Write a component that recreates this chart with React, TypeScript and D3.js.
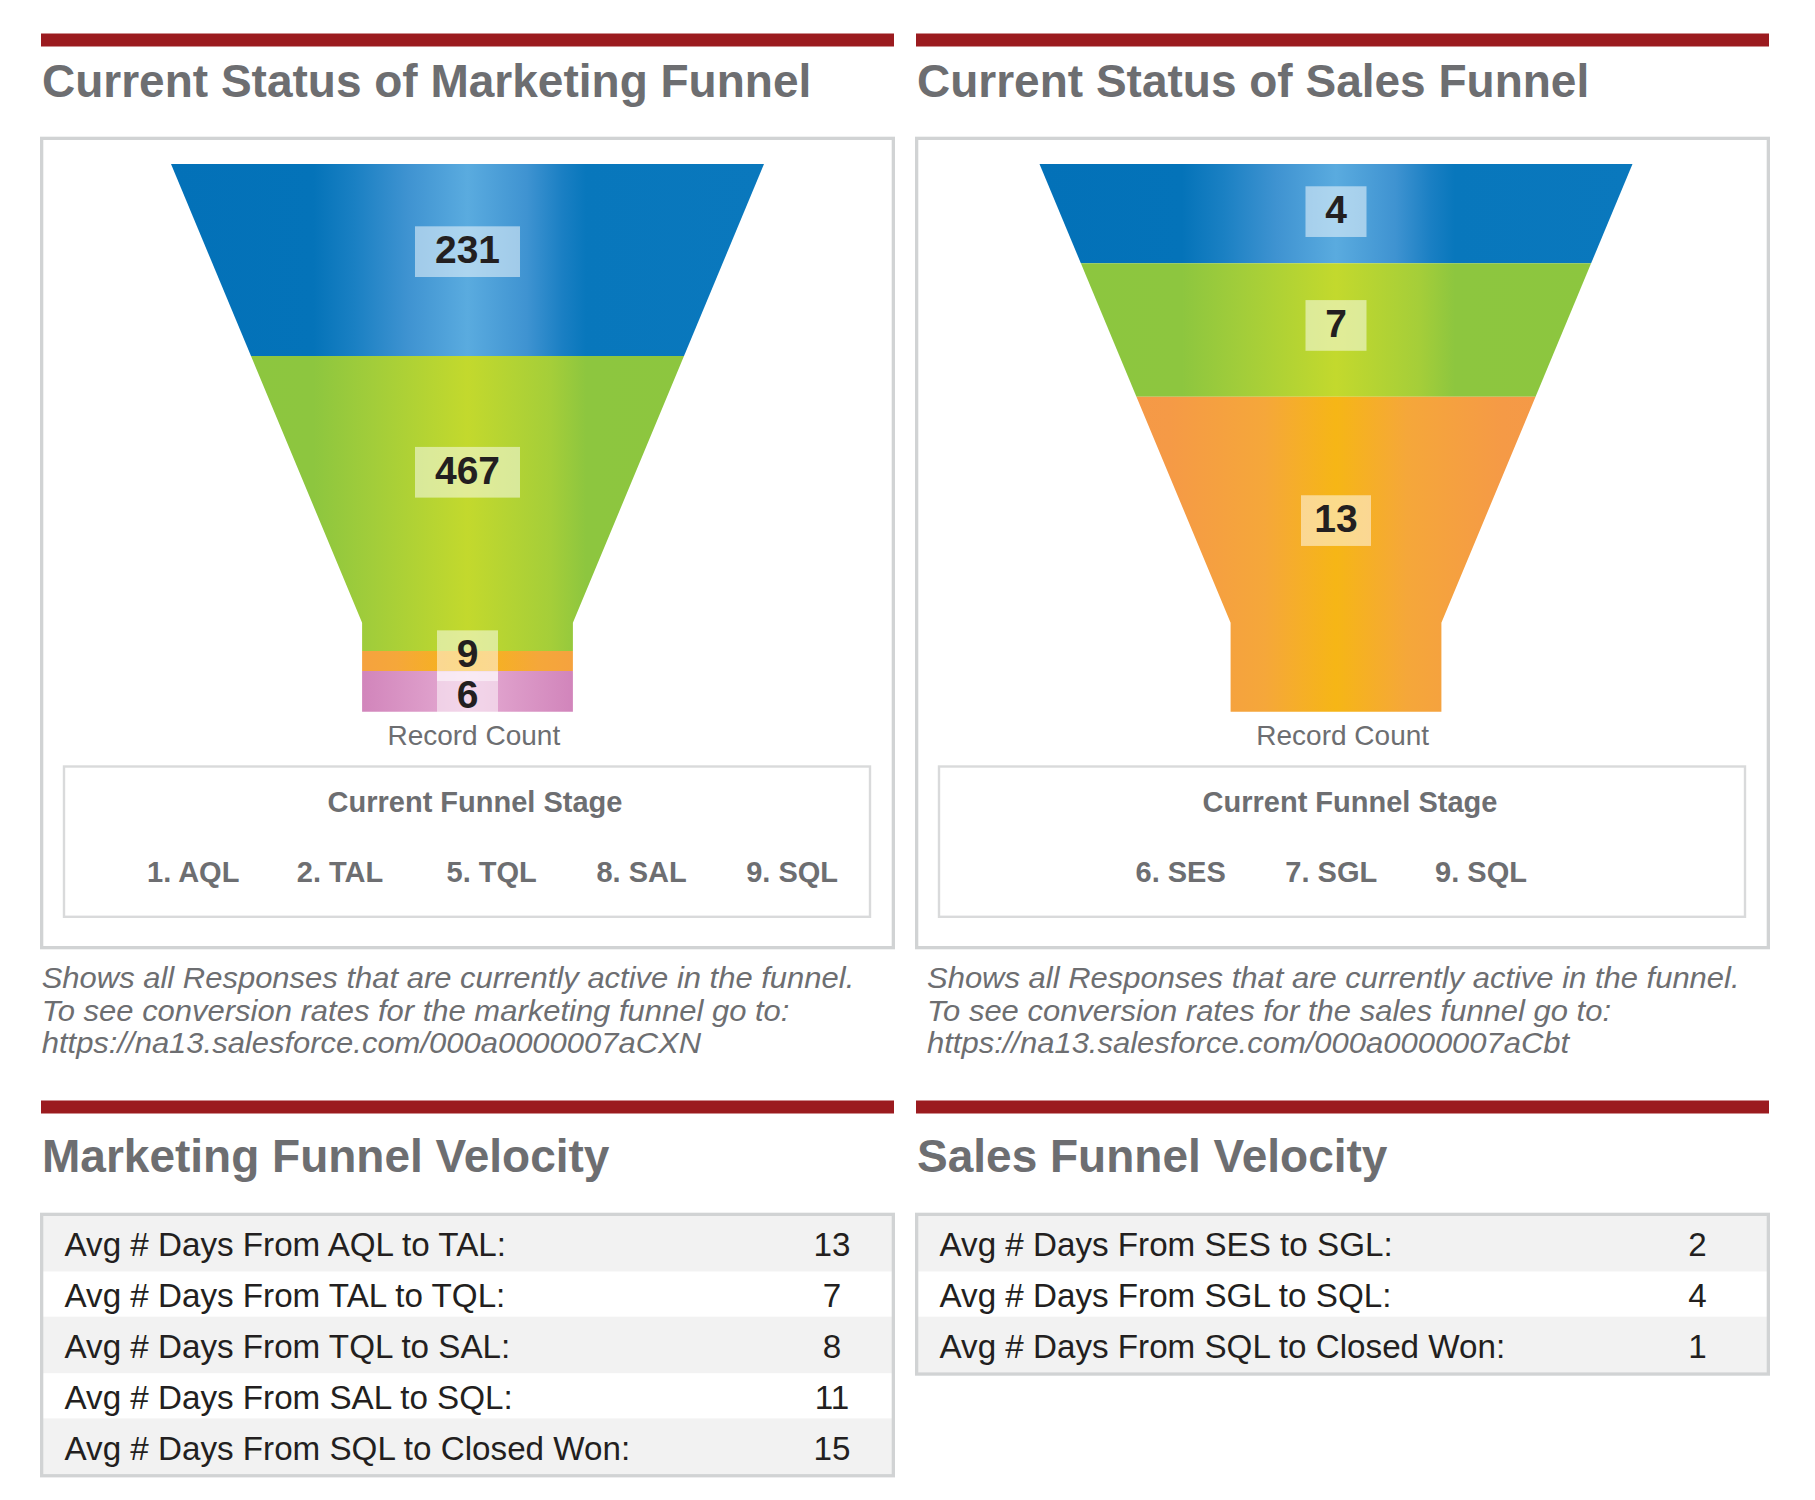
import React from 'react';
import * as d3 from 'd3';

// ---------------- DATA ----------------
const marketingTitle = 'Current Status of Marketing Funnel';
const salesTitle = 'Current Status of Sales Funnel';
const marketingStages = ['1. AQL', '2. TAL', '5. TQL', '8. SAL', '9. SQL'];
const marketingCounts = [231, 467, 9, 6];
// relative size of each funnel band as drawn in the chart (percent of funnel height)
const marketingBandSize = [35.06, 53.86, 3.65, 7.43];
const marketingBandColor = ['blue', 'green', 'orange', 'pink'];

const salesStages = ['6. SES', '7. SGL', '9. SQL'];
const salesCounts = [4, 7, 13];
const salesBandSize = [18.13, 24.36, 57.51];
const salesBandColor = ['blue', 'green', 'orange'];

const marketingNote = [
  'Shows all Responses that are currently active in the funnel.',
  'To see conversion rates for the marketing funnel go to:',
  'https://na13.salesforce.com/000a0000007aCXN',
];
const salesNote = [
  'Shows all Responses that are currently active in the funnel.',
  'To see conversion rates for the sales funnel go to:',
  'https://na13.salesforce.com/000a0000007aCbt',
];

const marketingVelocityTitle = 'Marketing Funnel Velocity';
const salesVelocityTitle = 'Sales Funnel Velocity';
const marketingVelocityLabels = [
  'Avg # Days From AQL to TAL:',
  'Avg # Days From TAL to TQL:',
  'Avg # Days From TQL to SAL:',
  'Avg # Days From SAL to SQL:',
  'Avg # Days From SQL to Closed Won:',
];
const marketingVelocityDays = [13, 7, 8, 11, 15];
const salesVelocityLabels = [
  'Avg # Days From SES to SGL:',
  'Avg # Days From SGL to SQL:',
  'Avg # Days From SQL to Closed Won:',
];
const salesVelocityDays = [2, 4, 1];

// ---------------- STYLE / LAYOUT ----------------
const FONT = "'Liberation Sans', Arial, Helvetica, sans-serif";
const GRAY_TEXT = '#6d6e71';
const DARK_TEXT = '#231f20';
const RED = '#9b1b1f';
const BORDER = '#d1d3d4';

const palettes: Record<string, [number, string][]> = {
  blue: [[0, '#0371b8'], [0.24, '#0473b9'], [0.31, '#1a80c3'], [0.4, '#3f93d1'], [0.5, '#5aabdf'], [0.6, '#3f93d1'], [0.66, '#1a7fc3'], [0.7, '#0877bc'], [1, '#0a78bd']],
  green: [[0, '#8cc63f'], [0.24, '#8dc63f'], [0.34, '#a2cd3a'], [0.5, '#c3d92d'], [0.64, '#a5ce39'], [0.7, '#8dc63f'], [1, '#8cc63f']],
  orange: [[0, '#f4974a'], [0.22, '#f59a46'], [0.38, '#f5a73a'], [0.5, '#f6b616'], [0.62, '#f5a73a'], [0.78, '#f59a46'], [1, '#f4974a']],
  pink: [[0, '#ce7eb7'], [0.3, '#cf80b8'], [0.42, '#dc9ac8'], [0.5, '#e6acd4'], [0.58, '#dc9ac8'], [0.7, '#cf80b8'], [1, '#ce7eb7']],
};

const FUNNEL_TOP = 164;
const NECK_Y = 622.7;
const FUNNEL_BOTTOM = 711.7;
const TOP_HW = 296.5;
const NECK_HW = 105.4;
const LABEL_FONT = 39;
const LABEL_BOX_H = 50.7;
const LABEL_MIN_GAP = 41;
const CENTROID_POWER = 1.7;

const NOTE_FONT = 29;
const NOTE_STRETCH = 1.068;
const NOTE_BASE = 988.3;
const NOTE_PITCH = 32.4;

const TABLE_FONT = 33.2;

const PANEL_DX = 875;

type FunnelProps = {
  id: string;
  cx: number;
  counts: number[];
  sizes: number[];
  colors: string[];
};

function Funnel({ id, cx, counts, sizes, colors }: FunnelProps) {
  const total = d3.sum(sizes);
  const y = d3.scaleLinear().domain([0, total]).range([FUNNEL_TOP, FUNNEL_BOTTOM]);
  const hw = d3
    .scaleLinear()
    .domain([FUNNEL_TOP, NECK_Y, FUNNEL_BOTTOM])
    .range([TOP_HW, NECK_HW, NECK_HW])
    .clamp(true);
  const cum = [0, ...Array.from(d3.cumsum(sizes))];
  const line = d3.line();

  const bands = sizes.map((_, i) => {
    const y0 = y(cum[i]);
    const y1 = y(cum[i + 1]);
    const ys = [y0, ...(NECK_Y > y0 && NECK_Y < y1 ? [NECK_Y] : []), y1];
    const left = ys.map((v) => [cx - hw(v), v] as [number, number]);
    const right = ys.slice().reverse().map((v) => [cx + hw(v), v] as [number, number]);
    const path = line([...left, ...right]) + 'Z';
    // width-weighted centroid of the band
    let wSum = 0;
    let mSum = 0;
    for (let v = y0; v < y1; v += 0.25) {
      const w = Math.pow(hw(v + 0.125), CENTROID_POWER);
      wSum += w;
      mSum += w * (v + 0.125);
    }
    return { path, y0, y1, cy: wSum > 0 ? mSum / wSum : (y0 + y1) / 2 };
  });

  // label collision relaxation
  const centers = bands.map((b) => b.cy);
  for (let i = 1; i < centers.length; i++) {
    const gap = centers[i] - centers[i - 1];
    if (gap < LABEL_MIN_GAP) {
      const d = (LABEL_MIN_GAP - gap) / 2;
      centers[i - 1] -= d;
      centers[i] += d;
    }
  }

  return (
    <g>
      <defs>
        {colors.map((c, i) => (
          <linearGradient
            key={i}
            id={`${id}-g${i}`}
            gradientUnits="userSpaceOnUse"
            x1={cx - TOP_HW}
            x2={cx + TOP_HW}
            y1={0}
            y2={0}
          >
            {palettes[c].map(([o, col], k) => (
              <stop key={k} offset={o} stopColor={col} />
            ))}
          </linearGradient>
        ))}
      </defs>
      {bands.map((b, i) => (
        <path key={i} d={b.path} fill={`url(#${id}-g${i})`} />
      ))}
      {counts.map((c, i) => {
        const txt = String(c);
        const bw = Math.max(61, txt.length * 35);
        return (
          <rect
            key={'r' + i}
            x={cx - bw / 2}
            y={centers[i] - LABEL_BOX_H / 2}
            width={bw}
            height={LABEL_BOX_H}
            fill="#ffffff"
            fillOpacity={0.5}
          />
        );
      })}
      {counts.map((c, i) => (
        <text
          key={'t' + i}
          x={cx}
          y={centers[i] + 11.8}
          textAnchor="middle"
          fontFamily={FONT}
          fontWeight="bold"
          fontSize={LABEL_FONT}
          fill={DARK_TEXT}
        >
          {c}
        </text>
      ))}
    </g>
  );
}

type PanelProps = {
  dx: number;
  title: string;
  funnelCx: number;
  counts: number[];
  sizes: number[];
  colors: string[];
  stages: string[];
  legendStartX: number;
  legendTitleX: number;
  recordX: number;
  noteX: number;
  note: string[];
  id: string;
};

function FunnelPanel(p: PanelProps) {
  const legendX = d3.scaleLinear().domain([0, 1]).range([p.legendStartX, p.legendStartX + 149.8]);
  return (
    <g>
      <rect x={41 + p.dx} y={33.5} width={853} height={13} fill={RED} />
      <text x={42 + p.dx} y={97} fontFamily={FONT} fontWeight="bold" fontSize={46} fill={GRAY_TEXT}>
        {p.title}
      </text>
      <rect x={41.65 + p.dx} y={138.35} width={851.7} height={809.3} fill="#fff" stroke={BORDER} strokeWidth={3.3} />
      <Funnel id={p.id} cx={p.funnelCx} counts={p.counts} sizes={p.sizes} colors={p.colors} />
      <text x={p.recordX} y={745.3} textAnchor="middle" fontFamily={FONT} fontSize={28} fill={GRAY_TEXT}>
        Record Count
      </text>
      <rect x={64 + p.dx} y={766.5} width={806} height={150.3} fill="none" stroke="#d9dadb" strokeWidth={2.4} />
      <text x={p.legendTitleX} y={811.7} textAnchor="middle" fontFamily={FONT} fontWeight="bold" fontSize={29} fill={GRAY_TEXT}>
        Current Funnel Stage
      </text>
      {p.stages.map((s, i) => (
        <text key={s} x={legendX(i)} y={881.7} fontFamily={FONT} fontWeight="bold" fontSize={29} fill={GRAY_TEXT}>
          {s}
        </text>
      ))}
      {p.note.map((l, i) => {
        const by = NOTE_BASE + i * NOTE_PITCH;
        return (
          <text
            key={i}
            x={0}
            y={0}
            transform={`translate(${p.noteX},${by}) scale(${NOTE_STRETCH},1)`}
            fontFamily={FONT}
            fontStyle="italic"
            fontSize={NOTE_FONT}
            fill={GRAY_TEXT}
          >
            {l}
          </text>
        );
      })}
    </g>
  );
}

type TableProps = {
  dx: number;
  title: string;
  labels: string[];
  values: number[];
  valueX: number;
};

const GRAY_ROW_H = 56.7;
const WHITE_ROW_H = 45;
const ROW_TOP = 1215;

function VelocityPanel(p: TableProps) {
  const heights = p.labels.map((_, i) => (i % 2 === 0 ? GRAY_ROW_H : WHITE_ROW_H));
  const tops = [ROW_TOP, ...Array.from(d3.cumsum(heights)).map((h) => ROW_TOP + h)];
  const totalH = d3.sum(heights);
  return (
    <g>
      <rect x={41 + p.dx} y={1100.5} width={853} height={13} fill={RED} />
      <text x={42 + p.dx} y={1172} fontFamily={FONT} fontWeight="bold" fontSize={46} fill={GRAY_TEXT}>
        {p.title}
      </text>
      {p.labels.map((l, i) => (
        <rect
          key={'bg' + i}
          x={41 + p.dx}
          y={tops[i]}
          width={853}
          height={heights[i]}
          fill={i % 2 === 0 ? '#f2f2f2' : '#ffffff'}
        />
      ))}
      <rect
        x={41.65 + p.dx}
        y={ROW_TOP - 0.65}
        width={851.7}
        height={totalH + 1.3}
        fill="none"
        stroke={BORDER}
        strokeWidth={3.3}
      />
      {p.labels.map((l, i) => (
        <text key={'l' + i} x={64.5 + p.dx} y={tops[i] + heights[i] / 2 + 13} fontFamily={FONT} fontSize={TABLE_FONT} fill={DARK_TEXT}>
          {l}
        </text>
      ))}
      {p.values.map((v, i) => (
        <text
          key={'v' + i}
          x={p.valueX}
          y={tops[i] + heights[i] / 2 + 13}
          textAnchor="middle"
          fontFamily={FONT}
          fontSize={TABLE_FONT}
          fill={DARK_TEXT}
        >
          {v}
        </text>
      ))}
    </g>
  );
}

export default function App() {
  return (
    <svg
      width={1815}
      height={1500}
      viewBox="0 0 1815 1500"
      style={{ position: 'absolute', left: 0, top: 0, background: '#fff' }}
    >
      <rect x={0} y={0} width={1815} height={1500} fill="#fff" />
      <FunnelPanel
        id="mk"
        dx={0}
        title={marketingTitle}
        funnelCx={467.5}
        counts={marketingCounts}
        sizes={marketingBandSize}
        colors={marketingBandColor}
        stages={marketingStages}
        legendStartX={147}
        legendTitleX={475}
        recordX={473.8}
        noteX={41.7}
        note={marketingNote}
      />
      <FunnelPanel
        id="sl"
        dx={PANEL_DX}
        title={salesTitle}
        funnelCx={1336}
        counts={salesCounts}
        sizes={salesBandSize}
        colors={salesBandColor}
        stages={salesStages}
        legendStartX={1135.5}
        legendTitleX={1350}
        recordX={1342.7}
        noteX={927}
        note={salesNote}
      />
      <VelocityPanel
        dx={0}
        title={marketingVelocityTitle}
        labels={marketingVelocityLabels}
        values={marketingVelocityDays}
        valueX={832}
      />
      <VelocityPanel
        dx={PANEL_DX}
        title={salesVelocityTitle}
        labels={salesVelocityLabels}
        values={salesVelocityDays}
        valueX={1697.5}
      />
    </svg>
  );
}
